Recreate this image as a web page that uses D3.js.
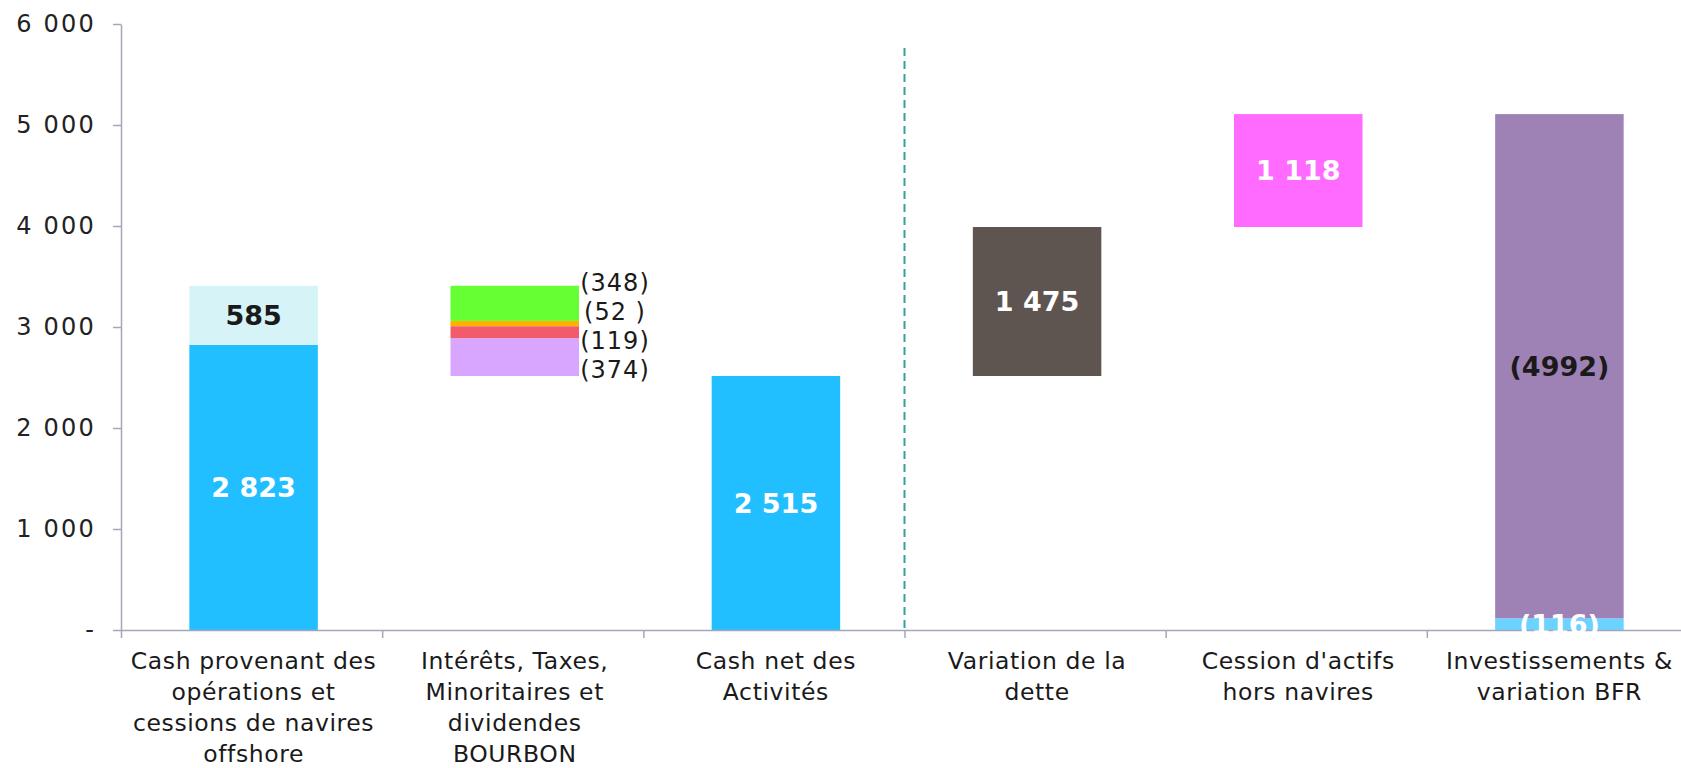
<!DOCTYPE html>
<html>
<head>
<meta charset="utf-8">
<script src="https://cdn.jsdelivr.net/npm/d3@7"></script>
<style>
  html, body { margin: 0; padding: 0; background: #fff; }
  svg { display: block; }
</style>
</head>
<body>
<svg id="chart" width="1681" height="768"></svg>
<script>
// categories (each label split into its lines)
const categories = [
  ['Cash provenant des', 'opérations et', 'cessions de navires', 'offshore'],
  ['Intérêts, Taxes,', 'Minoritaires et', 'dividendes', 'BOURBON'],
  ['Cash net des', 'Activités'],
  ['Variation de la', 'dette'],
  ['Cession d\'actifs', 'hors navires'],
  ['Investissements &', 'variation BFR']
];

// floating base of every column, then its stacked pieces from bottom to top
const stackBase = [0, 2515, 0, 2515, 3990, 0];
const stackValues = [
  [2823, 585],
  [374, 119, 52, 348],
  [2515],
  [1475],
  [1118],
  [116, 4992]
];
const stackLabels = [
  ['2 823', '585'],
  ['(374)', '(119)', '(52 )', '(348)'],
  ['2 515'],
  ['1 475'],
  ['1 118'],
  ['(116)', '(4992)']
];
const stackColors = [
  ['#21bfff', '#d6f3f7'],
  ['#d8a6ff', '#f25b6b', '#ffb000', '#66ff33'],
  ['#21bfff'],
  ['#5e5450'],
  ['#ff6bff'],
  ['#6bd3ff', '#9e82b5']
];
const labelColors = [
  ['#fff', '#1a1a1a'],
  ['#1a1a1a', '#1a1a1a', '#1a1a1a', '#1a1a1a'],
  ['#fff'],
  ['#fff'],
  ['#fff'],
  ['#fff', '#1a1a1a']
];
const yTicks = [0, 1000, 2000, 3000, 4000, 5000, 6000];

const FONT = 'DejaVu Sans';
const AXIS_COL = '#a3a7b9';

const svg = d3.select('#chart');

const x = d3.scaleBand()
    .domain(d3.range(categories.length))
    .range([121, 1688])
    .padding(0);
const xEdge = d3.scaleLinear().domain([0, categories.length]).range([121, 1688]);
const y = d3.scaleLinear().domain([0, 6000]).range([630, 24]);

const barW = x.bandwidth() * 0.492;
const barShift = 2;

svg.append('defs').append('clipPath')
    .attr('id', 'plot')
  .append('rect')
    .attr('x', 121).attr('y', 0)
    .attr('width', 1681).attr('height', 632);

// bars
const g = svg.append('g');
categories.forEach((c, i) => {
  let acc = stackBase[i];
  const bx = x(i) + (x.bandwidth() - barW) / 2 + barShift;
  stackValues[i].forEach((v, j) => {
    const y0 = acc, y1 = acc + v;
    g.append('rect')
        .attr('x', bx).attr('y', y(y1))
        .attr('width', barW).attr('height', y(y0) - y(y1))
        .attr('fill', stackColors[i][j]);
    acc = y1;
  });
});

// dashed divider between the operating block and the rest
svg.append('line')
    .attr('x1', xEdge(3)).attr('x2', xEdge(3))
    .attr('y1', 48).attr('y2', y(0))
    .attr('stroke', '#3a9da0').attr('stroke-width', 2)
    .attr('stroke-dasharray', '8,5');

// axes
const fmt = d3.formatLocale({ decimal: ',', thousands: ' ', grouping: [3], currency: ['', ''] }).format(',');
const yAxis = svg.append('g')
    .attr('transform', 'translate(121,0)')
    .call(d3.axisLeft(y).tickValues(yTicks).tickSize(8).tickSizeOuter(0).tickPadding(17)
      .tickFormat(d => d === 0 ? '-' : fmt(d)));
yAxis.select('.domain').attr('stroke', AXIS_COL).attr('stroke-width', 1.5);
yAxis.selectAll('.tick line').attr('stroke', AXIS_COL).attr('stroke-width', 1.5);
yAxis.selectAll('.tick text')
    .attr('font-family', FONT).attr('font-size', 24).attr('letter-spacing', 2.2).attr('fill', '#222');

const xAxis = svg.append('g')
    .attr('transform', `translate(0,${y(0)})`)
    .call(d3.axisBottom(xEdge).tickValues(d3.range(categories.length)).tickSize(8).tickSizeOuter(0).tickFormat(''));
xAxis.select('.domain').attr('stroke', AXIS_COL).attr('stroke-width', 1.5);
xAxis.selectAll('.tick line').attr('stroke', AXIS_COL).attr('stroke-width', 1.5);

// category labels
categories.forEach((lines, i) => {
  const cx = x(i) + x.bandwidth() / 2 + barShift;
  const t = svg.append('text')
      .attr('x', cx)
      .attr('y', 669)
      .attr('text-anchor', 'middle')
      .attr('font-family', FONT).attr('font-size', 23.5).attr('letter-spacing', 0.6)
      .attr('fill', '#1a1a1a');
  lines.forEach((l, k) => {
    t.append('tspan')
        .attr('x', cx)
        .attr('dy', k === 0 ? 0 : 31)
        .text(l);
  });
});

// value labels
const lg = svg.append('g').attr('clip-path', 'url(#plot)');
categories.forEach((c, i) => {
  let acc = stackBase[i];
  const cx = x(i) + x.bandwidth() / 2 + barShift;
  const n = stackValues[i].length;
  stackValues[i].forEach((v, j) => {
    const mid = acc + v / 2;
    acc += v;
    if (i === 1) {
      // small pieces: labels stacked beside the column, top piece first
      const top = stackBase[i] + d3.sum(stackValues[i]);
      const row = n - 1 - j;
      lg.append('text')
          .attr('x', cx + barW / 2 + 36)
          .attr('y', y(top) + row * 29 - 3)
          .attr('dy', '0.35em')
          .attr('text-anchor', 'middle')
          .attr('font-family', FONT).attr('font-size', 24).attr('letter-spacing', 1)
          .attr('fill', labelColors[i][j])
          .text(stackLabels[i][j]);
    } else {
      lg.append('text')
          .attr('x', cx)
          .attr('y', y(mid))
          .attr('dy', '0.36em')
          .attr('text-anchor', 'middle')
          .attr('font-family', FONT).attr('font-size', 27).attr('font-weight', 'bold')
          .attr('fill', labelColors[i][j])
          .text(stackLabels[i][j]);
    }
  });
});
</script>
</body>
</html>
